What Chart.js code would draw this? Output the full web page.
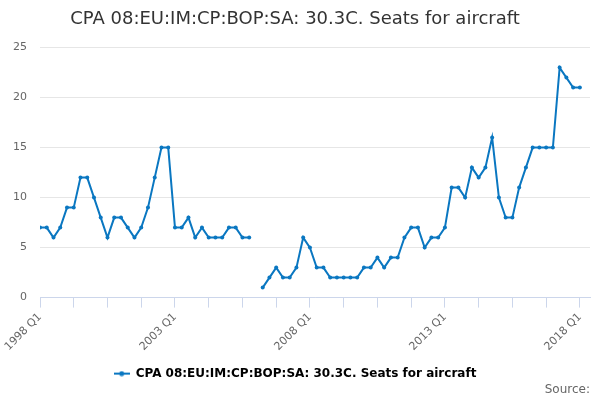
<!DOCTYPE html>
<html>
<head>
<meta charset="utf-8">
<script src="https://cdn.jsdelivr.net/npm/chart.js@4.4.0/dist/chart.umd.min.js"></script>
<style>
  body { margin: 0; background: #fff; }
  #wrap { width: 600px; height: 400px; }
</style>
</head>
<body>
<div id="wrap"><canvas id="seatsChart" width="600" height="400"></canvas></div>
<script>
const chartTitle = 'CPA 08:EU:IM:CP:BOP:SA: 30.3C. Seats for aircraft';
const seriesName = 'CPA 08:EU:IM:CP:BOP:SA: 30.3C. Seats for aircraft';
const firstYear = 1998;

// quarterly values, 1998 Q1 .. 2018 Q1 (null = no data)
const seatsValues = [
    7, 7, 6, 7, 9, 9, 12, 12,        // 1998-1999
    10, 8, 6, 8, 8, 7, 6, 7,         // 2000-2001
    9, 12, 15, 15, 7, 7, 8, 6,       // 2002-2003
    7, 6, 6, 6, 7, 7, 6, 6,          // 2004-2005
    null, 1, 2, 3, 2, 2, 3, 6,       // 2006-2007
    5, 3, 3, 2, 2, 2, 2, 2,          // 2008-2009
    3, 3, 4, 3, 4, 4, 6, 7,          // 2010-2011
    7, 5, 6, 6, 7, 11, 11, 10,       // 2012-2013
    13, 12, 13, 16, 10, 8, 8, 11,    // 2014-2015
    13, 15, 15, 15, 15, 23, 22, 21,  // 2016-2017
    21                               // 2018 Q1
];

const quarterLabels = seatsValues.map((v, i) => (firstYear + Math.floor(i / 4)) + ' Q' + (i % 4 + 1));
const yTicks = [0, 5, 10, 15, 20, 25];

const lineColor = '#0a77c1';

// legend marker: a short line with a dot in the middle
const marker = document.createElement('canvas');
marker.width = 16;
marker.height = 6;
const mctx = marker.getContext('2d');
mctx.strokeStyle = lineColor;
mctx.lineWidth = 2;
mctx.beginPath();
mctx.moveTo(0, 3);
mctx.lineTo(16, 3);
mctx.stroke();
mctx.fillStyle = lineColor;
mctx.beginPath();
mctx.arc(8, 3, 2.5, 0, Math.PI * 2);
mctx.fill();

Chart.defaults.font.family = '"DejaVu Sans", Verdana, sans-serif';

const ctx = document.getElementById('seatsChart').getContext('2d');
const seatsChart = new Chart(ctx, {
    type: 'line',
    data: {
        datasets: [{
            label: seriesName,
            data: seatsValues.map((v, i) => ({ x: i, y: v })),
            borderColor: lineColor,
            backgroundColor: lineColor,
            borderWidth: 2,
            pointRadius: 2,
            pointHoverRadius: 3,
            pointBackgroundColor: lineColor,
            pointBorderWidth: 0,
            pointStyle: 'circle',
            spanGaps: false,
            tension: 0,
            fill: false
        }]
    },
    options: {
        responsive: false,
        animation: false,
        layout: { padding: { left: 0, right: 10, top: 0, bottom: 3 } },
        plugins: {
            title: {
                display: true,
                text: chartTitle,
                color: '#333333',
                font: { size: 18, weight: 'normal' },
                padding: { top: 9, bottom: 17 }
            },
            subtitle: {
                display: true,
                text: 'Source:',
                position: 'bottom',
                align: 'end',
                color: '#666666',
                font: { size: 12, weight: 'normal' },
                // negative top padding lets the legend sit closer to the source line
                padding: { top: -7, bottom: 0 }
            },
            legend: {
                position: 'bottom',
                labels: {
                    color: '#333333',
                    font: { size: 12, weight: 'bold' },
                    usePointStyle: true,
                    pointStyleWidth: 16,
                    boxHeight: 6,
                    padding: 4,
                    generateLabels: chart => [{
                        text: seriesName,
                        pointStyle: marker,
                        fillStyle: lineColor,
                        strokeStyle: lineColor,
                        lineWidth: 0,
                        datasetIndex: 0
                    }]
                }
            },
            tooltip: { enabled: false }
        },
        scales: {
            x: {
                type: 'linear',
                min: 0,
                max: 81.5,
                border: { color: '#ccd6eb', width: 1 },
                grid: { drawOnChartArea: false, drawTicks: true, tickLength: 10, color: '#ccd6eb' },
                ticks: {
                    stepSize: 5,
                    includeBounds: false,
                    autoSkip: false,
                    maxRotation: 45,
                    minRotation: 45,
                    color: '#666666',
                    font: { size: 11 },
                    padding: 3,
                    callback: v => {
                        if (v % 20 === 0) return quarterLabels[v];
                        if (v % 5 === 0) return '';
                        return null;
                    }
                },
                afterFit: axis => { axis.height = 66; }
            },
            y: {
                min: yTicks[0],
                max: yTicks[yTicks.length - 1],
                border: { display: false },
                grid: { color: '#e6e6e6', drawTicks: false },
                ticks: {
                    stepSize: 5,
                    color: '#666666',
                    font: { size: 11 },
                    padding: 13
                },
                afterFit: axis => { axis.width = 40; }
            }
        }
    }
});
</script>
</body>
</html>
